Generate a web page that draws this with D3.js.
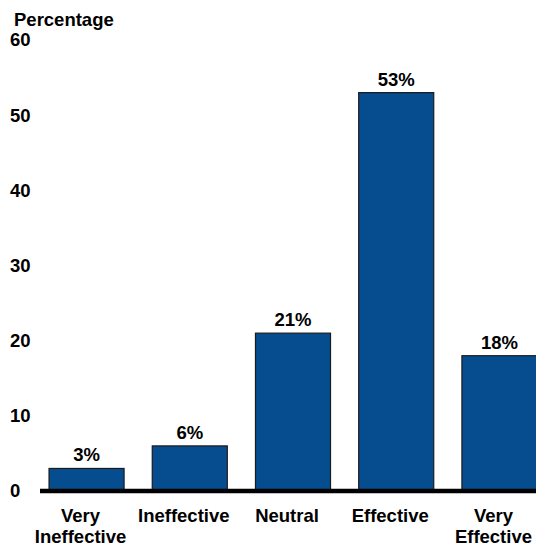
<!DOCTYPE html>
<html>
<head>
<meta charset="utf-8">
<script src="https://cdn.jsdelivr.net/npm/d3@7"></script>
<style>
  body { margin: 0; background: #fff; }
  text { font-family: "Liberation Sans", Arial, sans-serif; font-weight: bold; fill: #000; }
</style>
</head>
<body>
<svg id="chart" width="536" height="545"></svg>
<script>
const categories = ["Very Ineffective", "Ineffective", "Neutral", "Effective", "Very Effective"];
const categoryLines = [["Very", "Ineffective"], ["Ineffective"], ["Neutral"], ["Effective"], ["Very", "Effective"]];
const values = [3, 6, 21, 53, 18];
const yTicks = [0, 10, 20, 30, 40, 50, 60];

const svg = d3.select("#chart");

// scales
const x = d3.scaleBand()
  .domain(categories)
  .range([35, 551])
  .paddingInner(0.273)
  .paddingOuter(0.136);

const y = d3.scaleLinear()
  .domain([0, 60])
  .range([491, 40]);

// axis title
svg.append("text")
  .attr("x", 14)
  .attr("y", 25.5)
  .style("font-size", "18.5px")
  .text("Percentage");

// y tick labels
svg.selectAll(".ytick")
  .data(yTicks)
  .enter()
  .append("text")
  .attr("class", "ytick")
  .attr("x", 10)
  .attr("y", d => y(d))
  .attr("dy", "0.35em")
  .style("font-size", "18.5px")
  .text(d => d);

// bars
svg.selectAll(".bar")
  .data(values)
  .enter()
  .append("rect")
  .attr("class", "bar")
  .attr("x", (d, i) => x(categories[i]))
  .attr("y", d => y(d))
  .attr("width", x.bandwidth())
  .attr("height", d => y(0) - y(d))
  .attr("fill", "#054d8f")
  .attr("stroke", "#1b1b1b")
  .attr("stroke-width", 1.2);

// value labels
svg.selectAll(".val")
  .data(values)
  .enter()
  .append("text")
  .attr("class", "val")
  .attr("x", (d, i) => x(categories[i]) + x.bandwidth() / 2)
  .attr("y", d => y(d) - 7)
  .attr("text-anchor", "middle")
  .style("font-size", "18.5px")
  .text(d => d + "%");

// baseline
svg.append("line")
  .attr("x1", 40)
  .attr("x2", 536)
  .attr("y1", y(0))
  .attr("y2", y(0))
  .attr("stroke", "#000")
  .attr("stroke-width", 4.5);

// category labels (sit a little left of the bar centre, as in the original)
const cat = svg.selectAll(".cat")
  .data(categories)
  .enter()
  .append("text")
  .attr("class", "cat")
  .attr("text-anchor", "middle")
  .style("font-size", "18.5px");

cat.selectAll("tspan")
  .data((d, i) => categoryLines[i].map(t => ({ t, c: d })))
  .enter()
  .append("tspan")
  .attr("x", d => x(d.c) + x.bandwidth() / 2 - 6)
  .attr("y", (d, j) => 521.5 + j * 21)
  .text(d => d.t);
</script>
</body>
</html>
